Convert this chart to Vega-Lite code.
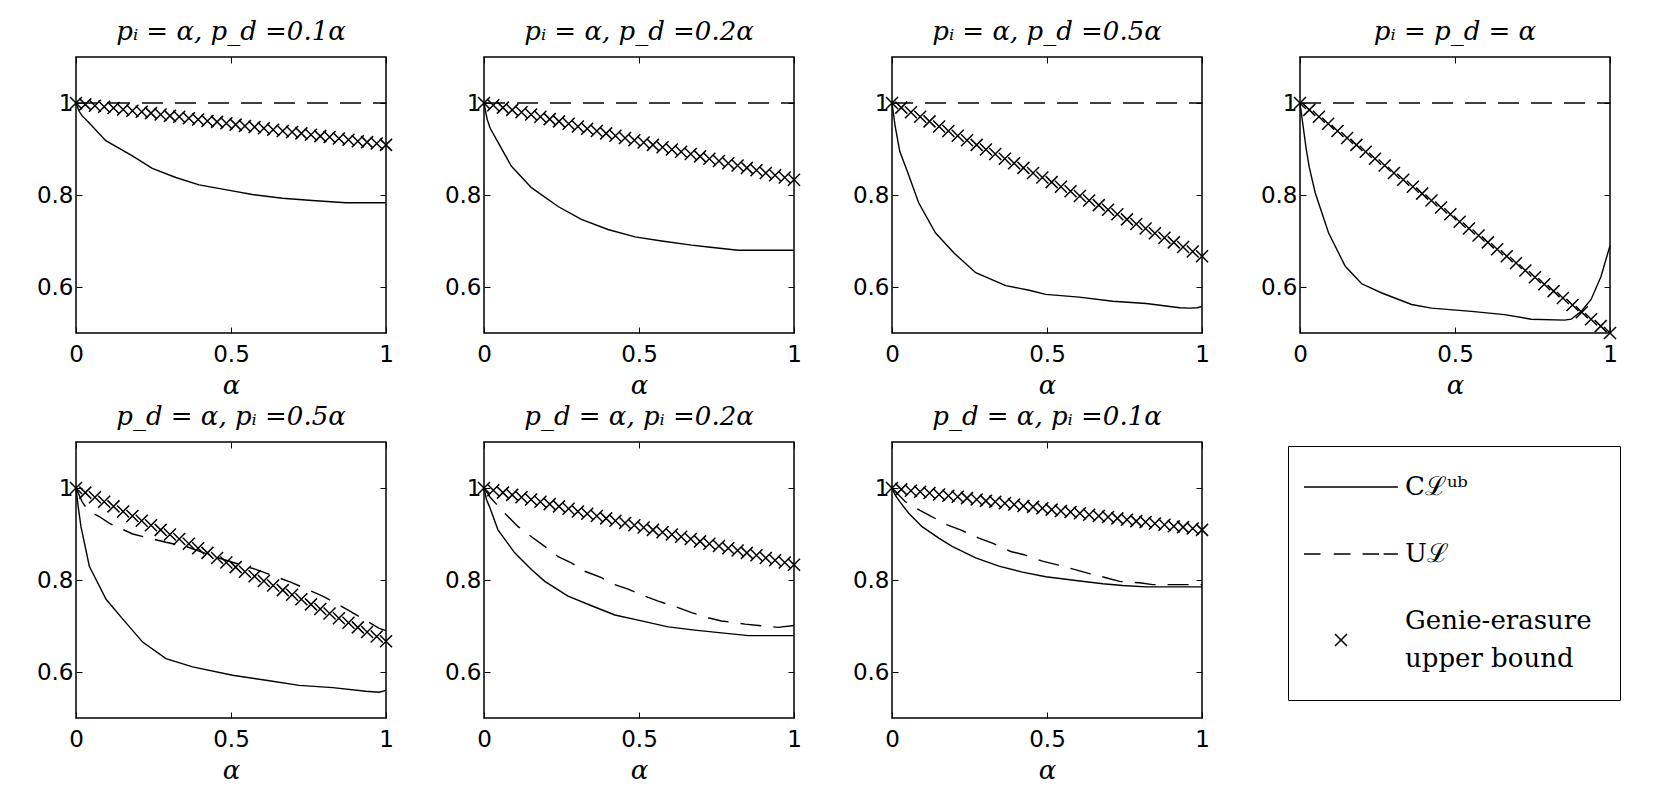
{
"$schema": "https://vega.github.io/schema/vega-lite/v6.json",
"background": "white",
"autosize": {"type": "pad"},
"padding": {"left": 35, "top": 17, "right": 5, "bottom": 5},
"columns": 4,
"spacing": {"row": 109, "column": 98},
"bounds": "flush",
"align": "all",
"datasets": {
"g1": [{"s":"G","a":0,"v":1},{"s":"G","a":0.03,"v":0.997},{"s":"G","a":0.061,"v":0.994},{"s":"G","a":0.091,"v":0.992},{"s":"G","a":0.121,"v":0.989},{"s":"G","a":0.152,"v":0.986},{"s":"G","a":0.182,"v":0.983},{"s":"G","a":0.212,"v":0.981},{"s":"G","a":0.242,"v":0.978},{"s":"G","a":0.273,"v":0.975},{"s":"G","a":0.303,"v":0.972},{"s":"G","a":0.333,"v":0.97},{"s":"G","a":0.364,"v":0.967},{"s":"G","a":0.394,"v":0.964},{"s":"G","a":0.424,"v":0.961},{"s":"G","a":0.455,"v":0.959},{"s":"G","a":0.485,"v":0.956},{"s":"G","a":0.515,"v":0.953},{"s":"G","a":0.545,"v":0.95},{"s":"G","a":0.576,"v":0.948},{"s":"G","a":0.606,"v":0.945},{"s":"G","a":0.636,"v":0.942},{"s":"G","a":0.667,"v":0.939},{"s":"G","a":0.697,"v":0.937},{"s":"G","a":0.727,"v":0.934},{"s":"G","a":0.758,"v":0.931},{"s":"G","a":0.788,"v":0.928},{"s":"G","a":0.818,"v":0.926},{"s":"G","a":0.848,"v":0.923},{"s":"G","a":0.879,"v":0.92},{"s":"G","a":0.909,"v":0.917},{"s":"G","a":0.939,"v":0.915},{"s":"G","a":0.97,"v":0.912},{"s":"G","a":1,"v":0.909}],
"g2": [{"a":0,"v":1},{"a":0.03,"v":0.995},{"a":0.061,"v":0.99},{"a":0.091,"v":0.985},{"a":0.121,"v":0.98},{"a":0.152,"v":0.975},{"a":0.182,"v":0.97},{"a":0.212,"v":0.965},{"a":0.242,"v":0.96},{"a":0.273,"v":0.955},{"a":0.303,"v":0.949},{"a":0.333,"v":0.944},{"a":0.364,"v":0.939},{"a":0.394,"v":0.934},{"a":0.424,"v":0.929},{"a":0.455,"v":0.924},{"a":0.485,"v":0.919},{"a":0.515,"v":0.914},{"a":0.545,"v":0.909},{"a":0.576,"v":0.904},{"a":0.606,"v":0.899},{"a":0.636,"v":0.894},{"a":0.667,"v":0.889},{"a":0.697,"v":0.884},{"a":0.727,"v":0.879},{"a":0.758,"v":0.874},{"a":0.788,"v":0.869},{"a":0.818,"v":0.864},{"a":0.848,"v":0.859},{"a":0.879,"v":0.854},{"a":0.909,"v":0.848},{"a":0.939,"v":0.843},{"a":0.97,"v":0.838},{"a":1,"v":0.833}],
"g3": [{"a":0,"v":1},{"a":0.03,"v":0.99},{"a":0.061,"v":0.98},{"a":0.091,"v":0.97},{"a":0.121,"v":0.96},{"a":0.152,"v":0.949},{"a":0.182,"v":0.939},{"a":0.212,"v":0.929},{"a":0.242,"v":0.919},{"a":0.273,"v":0.909},{"a":0.303,"v":0.899},{"a":0.333,"v":0.889},{"a":0.364,"v":0.879},{"a":0.394,"v":0.869},{"a":0.424,"v":0.859},{"a":0.455,"v":0.848},{"a":0.485,"v":0.838},{"a":0.515,"v":0.828},{"a":0.545,"v":0.818},{"a":0.576,"v":0.808},{"a":0.606,"v":0.798},{"a":0.636,"v":0.788},{"a":0.667,"v":0.778},{"a":0.697,"v":0.768},{"a":0.727,"v":0.758},{"a":0.758,"v":0.747},{"a":0.788,"v":0.737},{"a":0.818,"v":0.727},{"a":0.848,"v":0.717},{"a":0.879,"v":0.707},{"a":0.909,"v":0.697},{"a":0.939,"v":0.687},{"a":0.97,"v":0.677},{"a":1,"v":0.667}],
"g4": [{"a":0,"v":1},{"a":0.03,"v":0.985},{"a":0.061,"v":0.97},{"a":0.091,"v":0.955},{"a":0.121,"v":0.939},{"a":0.152,"v":0.924},{"a":0.182,"v":0.909},{"a":0.212,"v":0.894},{"a":0.242,"v":0.879},{"a":0.273,"v":0.864},{"a":0.303,"v":0.848},{"a":0.333,"v":0.833},{"a":0.364,"v":0.818},{"a":0.394,"v":0.803},{"a":0.424,"v":0.788},{"a":0.455,"v":0.773},{"a":0.485,"v":0.758},{"a":0.515,"v":0.742},{"a":0.545,"v":0.727},{"a":0.576,"v":0.712},{"a":0.606,"v":0.697},{"a":0.636,"v":0.682},{"a":0.667,"v":0.667},{"a":0.697,"v":0.652},{"a":0.727,"v":0.636},{"a":0.758,"v":0.621},{"a":0.788,"v":0.606},{"a":0.818,"v":0.591},{"a":0.848,"v":0.576},{"a":0.879,"v":0.561},{"a":0.909,"v":0.545},{"a":0.939,"v":0.53},{"a":0.97,"v":0.515},{"a":1,"v":0.5}],
"c": [
{"p":1,"s":"C","a":0,"v":1},{"p":1,"s":"C","a":0.01,"v":0.982},{"p":1,"s":"C","a":0.02,"v":0.972},{"p":1,"s":"C","a":0.042,"v":0.957},{"p":1,"s":"C","a":0.096,"v":0.918},{"p":1,"s":"C","a":0.182,"v":0.885},{"p":1,"s":"C","a":0.246,"v":0.858},{"p":1,"s":"C","a":0.322,"v":0.838},{"p":1,"s":"C","a":0.397,"v":0.822},{"p":1,"s":"C","a":0.504,"v":0.809},{"p":1,"s":"C","a":0.569,"v":0.801},{"p":1,"s":"C","a":0.666,"v":0.793},{"p":1,"s":"C","a":0.762,"v":0.788},{"p":1,"s":"C","a":0.87,"v":0.783},{"p":1,"s":"C","a":1,"v":0.783},
{"p":1,"s":"U","a":0,"v":1},{"p":1,"s":"U","a":1,"v":1},
{"p":2,"s":"C","a":0,"v":1},{"p":2,"s":"C","a":0.01,"v":0.965},{"p":2,"s":"C","a":0.02,"v":0.945},{"p":2,"s":"C","a":0.04,"v":0.921},{"p":2,"s":"C","a":0.088,"v":0.863},{"p":2,"s":"C","a":0.153,"v":0.816},{"p":2,"s":"C","a":0.239,"v":0.775},{"p":2,"s":"C","a":0.314,"v":0.747},{"p":2,"s":"C","a":0.4,"v":0.725},{"p":2,"s":"C","a":0.487,"v":0.709},{"p":2,"s":"C","a":0.573,"v":0.7},{"p":2,"s":"C","a":0.67,"v":0.691},{"p":2,"s":"C","a":0.723,"v":0.687},{"p":2,"s":"C","a":0.82,"v":0.68},{"p":2,"s":"C","a":1,"v":0.68},
{"p":2,"s":"U","a":0,"v":1},{"p":2,"s":"U","a":1,"v":1},
{"p":3,"s":"C","a":0,"v":1},{"p":3,"s":"C","a":0.01,"v":0.95},{"p":3,"s":"C","a":0.025,"v":0.895},{"p":3,"s":"C","a":0.049,"v":0.852},{"p":3,"s":"C","a":0.086,"v":0.783},{"p":3,"s":"C","a":0.14,"v":0.718},{"p":3,"s":"C","a":0.2,"v":0.674},{"p":3,"s":"C","a":0.27,"v":0.631},{"p":3,"s":"C","a":0.367,"v":0.603},{"p":3,"s":"C","a":0.442,"v":0.593},{"p":3,"s":"C","a":0.496,"v":0.584},{"p":3,"s":"C","a":0.604,"v":0.578},{"p":3,"s":"C","a":0.712,"v":0.569},{"p":3,"s":"C","a":0.82,"v":0.564},{"p":3,"s":"C","a":0.928,"v":0.555},{"p":3,"s":"C","a":0.96,"v":0.554},{"p":3,"s":"C","a":0.985,"v":0.555},{"p":3,"s":"C","a":1,"v":0.558},
{"p":3,"s":"U","a":0,"v":1},{"p":3,"s":"U","a":1,"v":1},
{"p":4,"s":"C","a":0,"v":1},{"p":4,"s":"C","a":0.01,"v":0.95},{"p":4,"s":"C","a":0.02,"v":0.9},{"p":4,"s":"C","a":0.03,"v":0.86},{"p":4,"s":"C","a":0.049,"v":0.805},{"p":4,"s":"C","a":0.092,"v":0.718},{"p":4,"s":"C","a":0.146,"v":0.645},{"p":4,"s":"C","a":0.199,"v":0.607},{"p":4,"s":"C","a":0.264,"v":0.587},{"p":4,"s":"C","a":0.36,"v":0.562},{"p":4,"s":"C","a":0.424,"v":0.554},{"p":4,"s":"C","a":0.553,"v":0.547},{"p":4,"s":"C","a":0.66,"v":0.54},{"p":4,"s":"C","a":0.746,"v":0.53},{"p":4,"s":"C","a":0.853,"v":0.528},{"p":4,"s":"C","a":0.875,"v":0.53},{"p":4,"s":"C","a":0.907,"v":0.547},{"p":4,"s":"C","a":0.939,"v":0.573},{"p":4,"s":"C","a":0.971,"v":0.623},{"p":4,"s":"C","a":1,"v":0.69},
{"p":4,"s":"U","a":0,"v":1},{"p":4,"s":"U","a":1,"v":1},
{"p":5,"s":"C","a":0,"v":1},{"p":5,"s":"C","a":0.008,"v":0.955},{"p":5,"s":"C","a":0.016,"v":0.916},{"p":5,"s":"C","a":0.043,"v":0.83},{"p":5,"s":"C","a":0.097,"v":0.758},{"p":5,"s":"C","a":0.151,"v":0.715},{"p":5,"s":"C","a":0.215,"v":0.665},{"p":5,"s":"C","a":0.29,"v":0.629},{"p":5,"s":"C","a":0.376,"v":0.611},{"p":5,"s":"C","a":0.505,"v":0.593},{"p":5,"s":"C","a":0.613,"v":0.582},{"p":5,"s":"C","a":0.72,"v":0.571},{"p":5,"s":"C","a":0.828,"v":0.566},{"p":5,"s":"C","a":0.935,"v":0.558},{"p":5,"s":"C","a":0.978,"v":0.556},{"p":5,"s":"C","a":1,"v":0.56},
{"p":5,"s":"U","a":0,"v":1},{"p":5,"s":"U","a":0.02,"v":0.97},{"p":5,"s":"U","a":0.04,"v":0.95},{"p":5,"s":"U","a":0.075,"v":0.938},{"p":5,"s":"U","a":0.108,"v":0.923},{"p":5,"s":"U","a":0.183,"v":0.9},{"p":5,"s":"U","a":0.29,"v":0.882},{"p":5,"s":"U","a":0.355,"v":0.873},{"p":5,"s":"U","a":0.45,"v":0.85},{"p":5,"s":"U","a":0.58,"v":0.823},{"p":5,"s":"U","a":0.694,"v":0.795},{"p":5,"s":"U","a":0.796,"v":0.765},{"p":5,"s":"U","a":0.882,"v":0.733},{"p":5,"s":"U","a":0.978,"v":0.695},{"p":5,"s":"U","a":1,"v":0.69},
{"p":6,"s":"C","a":0,"v":1},{"p":6,"s":"C","a":0.008,"v":0.975},{"p":6,"s":"C","a":0.018,"v":0.959},{"p":6,"s":"C","a":0.045,"v":0.909},{"p":6,"s":"C","a":0.099,"v":0.859},{"p":6,"s":"C","a":0.153,"v":0.823},{"p":6,"s":"C","a":0.196,"v":0.797},{"p":6,"s":"C","a":0.271,"v":0.765},{"p":6,"s":"C","a":0.347,"v":0.744},{"p":6,"s":"C","a":0.422,"v":0.724},{"p":6,"s":"C","a":0.508,"v":0.711},{"p":6,"s":"C","a":0.594,"v":0.698},{"p":6,"s":"C","a":0.68,"v":0.691},{"p":6,"s":"C","a":0.766,"v":0.685},{"p":6,"s":"C","a":0.853,"v":0.679},{"p":6,"s":"C","a":1,"v":0.679},
{"p":6,"s":"U","a":0,"v":1},{"p":6,"s":"U","a":0.02,"v":0.98},{"p":6,"s":"U","a":0.04,"v":0.965},{"p":6,"s":"U","a":0.067,"v":0.945},{"p":6,"s":"U","a":0.11,"v":0.916},{"p":6,"s":"U","a":0.153,"v":0.894},{"p":6,"s":"U","a":0.196,"v":0.873},{"p":6,"s":"U","a":0.239,"v":0.851},{"p":6,"s":"U","a":0.282,"v":0.837},{"p":6,"s":"U","a":0.325,"v":0.819},{"p":6,"s":"U","a":0.379,"v":0.805},{"p":6,"s":"U","a":0.422,"v":0.79},{"p":6,"s":"U","a":0.465,"v":0.78},{"p":6,"s":"U","a":0.519,"v":0.765},{"p":6,"s":"U","a":0.562,"v":0.754},{"p":6,"s":"U","a":0.626,"v":0.74},{"p":6,"s":"U","a":0.67,"v":0.729},{"p":6,"s":"U","a":0.723,"v":0.718},{"p":6,"s":"U","a":0.766,"v":0.711},{"p":6,"s":"U","a":0.842,"v":0.704},{"p":6,"s":"U","a":0.885,"v":0.701},{"p":6,"s":"U","a":0.949,"v":0.697},{"p":6,"s":"U","a":1,"v":0.701},
{"p":7,"s":"C","a":0,"v":1},{"p":7,"s":"C","a":0.01,"v":0.985},{"p":7,"s":"C","a":0.022,"v":0.973},{"p":7,"s":"C","a":0.054,"v":0.945},{"p":7,"s":"C","a":0.097,"v":0.916},{"p":7,"s":"C","a":0.151,"v":0.891},{"p":7,"s":"C","a":0.194,"v":0.873},{"p":7,"s":"C","a":0.27,"v":0.848},{"p":7,"s":"C","a":0.345,"v":0.83},{"p":7,"s":"C","a":0.421,"v":0.817},{"p":7,"s":"C","a":0.496,"v":0.807},{"p":7,"s":"C","a":0.593,"v":0.799},{"p":7,"s":"C","a":0.68,"v":0.792},{"p":7,"s":"C","a":0.744,"v":0.788},{"p":7,"s":"C","a":0.82,"v":0.785},{"p":7,"s":"C","a":1,"v":0.785},
{"p":7,"s":"U","a":0,"v":1},{"p":7,"s":"U","a":0.043,"v":0.97},{"p":7,"s":"U","a":0.081,"v":0.955},{"p":7,"s":"U","a":0.119,"v":0.941},{"p":7,"s":"U","a":0.178,"v":0.92},{"p":7,"s":"U","a":0.221,"v":0.909},{"p":7,"s":"U","a":0.28,"v":0.891},{"p":7,"s":"U","a":0.324,"v":0.88},{"p":7,"s":"U","a":0.383,"v":0.862},{"p":7,"s":"U","a":0.426,"v":0.855},{"p":7,"s":"U","a":0.485,"v":0.841},{"p":7,"s":"U","a":0.534,"v":0.833},{"p":7,"s":"U","a":0.588,"v":0.823},{"p":7,"s":"U","a":0.631,"v":0.815},{"p":7,"s":"U","a":0.69,"v":0.805},{"p":7,"s":"U","a":0.734,"v":0.797},{"p":7,"s":"U","a":0.798,"v":0.794},{"p":7,"s":"U","a":0.841,"v":0.79},{"p":7,"s":"U","a":0.906,"v":0.79},{"p":7,"s":"U","a":1,"v":0.79}
]
},
"concat": [
{"width": 310, "height": 276, "title": "pᵢ = α, p_d =0.1α",
 "layer": [
  {"data": {"name": "c"}, "transform": [{"filter": "datum.p == 1 && datum.s == 'C'"}],
   "mark": {"type": "line", "color": "black", "strokeWidth": 1.4},
   "encoding": {
    "x": {"field": "a", "type": "quantitative", "scale": {"domain": [0, 1], "nice": false, "zero": false}, "axis": {"orient": "bottom", "values": [0, 0.5, 1], "format": "~g", "title": "α", "labelPadding": 16, "titlePadding": 6}},
    "y": {"field": "v", "type": "quantitative", "scale": {"domain": [0.5, 1.1], "nice": false, "zero": false}, "axis": {"orient": "left", "values": [0.6, 0.8, 1], "format": "~g", "title": null, "labelPadding": 9}}
   }},
  {"data": {"name": "c"}, "transform": [{"filter": "datum.p == 1 && datum.s == 'U'"}],
   "mark": {"type": "line", "color": "black", "strokeWidth": 1.4, "strokeDash": [21, 12]},
   "encoding": {"x": {"field": "a", "type": "quantitative", "axis": null}, "y": {"field": "v", "type": "quantitative", "axis": null}}},
  {"data": {"name": "g1"},
   "mark": {"type": "point", "shape": "M-1,-1L1,1M-1,1L1,-1", "size": 144, "filled": false, "stroke": "black", "strokeWidth": 1.5, "opacity": 1},
   "encoding": {
    "x": {"field": "a", "type": "quantitative", "axis": {"orient": "top", "values": [0, 0.5, 1], "labels": false, "title": null}},
    "y": {"field": "v", "type": "quantitative", "axis": {"orient": "right", "values": [0.6, 0.8, 1], "labels": false, "title": null}}
   }},
  {"data": {"name": "g1"},
   "mark": {"type": "point", "size": 144, "filled": false, "stroke": "black", "strokeWidth": 1.5, "opacity": 0},
   "encoding": {
    "x": {"field": "a", "type": "quantitative", "axis": null},
    "y": {"field": "v", "type": "quantitative", "axis": null},
    "shape": {"field": "s", "type": "nominal",
     "scale": {"domain": ["C", "U", "G"], "range": ["M-6.17,0L9.48,0", "M-6.17,0L-3.41,0M-1.2,0L1.57,0M3.59,0L6.35,0M7.09,0L9.48,0", "M-1,2.17L1,4.17M-1,4.17L1,2.17"]},
     "legend": {"orient": "none", "legendX": 1212, "legendY": 389, "title": null, "padding": 28, "strokeColor": "black",
      "symbolSize": 144, "symbolStrokeWidth": 1.5, "symbolStrokeColor": "black", "symbolFillColor": "transparent", "symbolOpacity": 1, "symbolOffset": 12,
      "labelFont": "DejaVu Serif", "labelFontSize": 26, "labelColor": "black", "labelOffset": 51, "rowPadding": 41, "labelLimit": 400,
      "labelExpr": "datum.value == 'C' ? 'Cℒᵘᵇ' : datum.value == 'U' ? 'Uℒ' : ['Genie-erasure', 'upper bound']"}}
   }}
 ],
 "resolve": {"axis": {"x": "independent", "y": "independent"}}
},
{"width": 310, "height": 276, "title": "pᵢ = α, p_d =0.2α",
 "layer": [
  {"data": {"name": "c"}, "transform": [{"filter": "datum.p == 2 && datum.s == 'C'"}],
   "mark": {"type": "line", "color": "black", "strokeWidth": 1.4},
   "encoding": {
    "x": {"field": "a", "type": "quantitative", "scale": {"domain": [0, 1], "nice": false, "zero": false}, "axis": {"orient": "bottom", "values": [0, 0.5, 1], "format": "~g", "title": "α", "labelPadding": 16, "titlePadding": 6}},
    "y": {"field": "v", "type": "quantitative", "scale": {"domain": [0.5, 1.1], "nice": false, "zero": false}, "axis": {"orient": "left", "values": [0.6, 0.8, 1], "format": "~g", "title": null, "labelPadding": 9}}
   }},
  {"data": {"name": "c"}, "transform": [{"filter": "datum.p == 2 && datum.s == 'U'"}],
   "mark": {"type": "line", "color": "black", "strokeWidth": 1.4, "strokeDash": [21, 12]},
   "encoding": {"x": {"field": "a", "type": "quantitative", "axis": null}, "y": {"field": "v", "type": "quantitative", "axis": null}}},
  {"data": {"name": "g2"},
   "mark": {"type": "point", "shape": "M-1,-1L1,1M-1,1L1,-1", "size": 144, "filled": false, "stroke": "black", "strokeWidth": 1.5, "opacity": 1},
   "encoding": {
    "x": {"field": "a", "type": "quantitative", "axis": {"orient": "top", "values": [0, 0.5, 1], "labels": false, "title": null}},
    "y": {"field": "v", "type": "quantitative", "axis": {"orient": "right", "values": [0.6, 0.8, 1], "labels": false, "title": null}}
   }}
 ],
 "resolve": {"axis": {"x": "independent", "y": "independent"}}
},
{"width": 310, "height": 276, "title": "pᵢ = α, p_d =0.5α",
 "layer": [
  {"data": {"name": "c"}, "transform": [{"filter": "datum.p == 3 && datum.s == 'C'"}],
   "mark": {"type": "line", "color": "black", "strokeWidth": 1.4},
   "encoding": {
    "x": {"field": "a", "type": "quantitative", "scale": {"domain": [0, 1], "nice": false, "zero": false}, "axis": {"orient": "bottom", "values": [0, 0.5, 1], "format": "~g", "title": "α", "labelPadding": 16, "titlePadding": 6}},
    "y": {"field": "v", "type": "quantitative", "scale": {"domain": [0.5, 1.1], "nice": false, "zero": false}, "axis": {"orient": "left", "values": [0.6, 0.8, 1], "format": "~g", "title": null, "labelPadding": 9}}
   }},
  {"data": {"name": "c"}, "transform": [{"filter": "datum.p == 3 && datum.s == 'U'"}],
   "mark": {"type": "line", "color": "black", "strokeWidth": 1.4, "strokeDash": [21, 12]},
   "encoding": {"x": {"field": "a", "type": "quantitative", "axis": null}, "y": {"field": "v", "type": "quantitative", "axis": null}}},
  {"data": {"name": "g3"},
   "mark": {"type": "point", "shape": "M-1,-1L1,1M-1,1L1,-1", "size": 144, "filled": false, "stroke": "black", "strokeWidth": 1.5, "opacity": 1},
   "encoding": {
    "x": {"field": "a", "type": "quantitative", "axis": {"orient": "top", "values": [0, 0.5, 1], "labels": false, "title": null}},
    "y": {"field": "v", "type": "quantitative", "axis": {"orient": "right", "values": [0.6, 0.8, 1], "labels": false, "title": null}}
   }}
 ],
 "resolve": {"axis": {"x": "independent", "y": "independent"}}
},
{"width": 310, "height": 276, "title": "pᵢ = p_d = α",
 "layer": [
  {"data": {"name": "c"}, "transform": [{"filter": "datum.p == 4 && datum.s == 'C'"}],
   "mark": {"type": "line", "color": "black", "strokeWidth": 1.4},
   "encoding": {
    "x": {"field": "a", "type": "quantitative", "scale": {"domain": [0, 1], "nice": false, "zero": false}, "axis": {"orient": "bottom", "values": [0, 0.5, 1], "format": "~g", "title": "α", "labelPadding": 16, "titlePadding": 6}},
    "y": {"field": "v", "type": "quantitative", "scale": {"domain": [0.5, 1.1], "nice": false, "zero": false}, "axis": {"orient": "left", "values": [0.6, 0.8, 1], "format": "~g", "title": null, "labelPadding": 9}}
   }},
  {"data": {"name": "c"}, "transform": [{"filter": "datum.p == 4 && datum.s == 'U'"}],
   "mark": {"type": "line", "color": "black", "strokeWidth": 1.4, "strokeDash": [21, 12]},
   "encoding": {"x": {"field": "a", "type": "quantitative", "axis": null}, "y": {"field": "v", "type": "quantitative", "axis": null}}},
  {"data": {"name": "g4"},
   "mark": {"type": "point", "shape": "M-1,-1L1,1M-1,1L1,-1", "size": 144, "filled": false, "stroke": "black", "strokeWidth": 1.5, "opacity": 1},
   "encoding": {
    "x": {"field": "a", "type": "quantitative", "axis": {"orient": "top", "values": [0, 0.5, 1], "labels": false, "title": null}},
    "y": {"field": "v", "type": "quantitative", "axis": {"orient": "right", "values": [0.6, 0.8, 1], "labels": false, "title": null}}
   }}
 ],
 "resolve": {"axis": {"x": "independent", "y": "independent"}}
},
{"width": 310, "height": 276, "title": "p_d = α, pᵢ =0.5α",
 "layer": [
  {"data": {"name": "c"}, "transform": [{"filter": "datum.p == 5 && datum.s == 'C'"}],
   "mark": {"type": "line", "color": "black", "strokeWidth": 1.4},
   "encoding": {
    "x": {"field": "a", "type": "quantitative", "scale": {"domain": [0, 1], "nice": false, "zero": false}, "axis": {"orient": "bottom", "values": [0, 0.5, 1], "format": "~g", "title": "α", "labelPadding": 16, "titlePadding": 6}},
    "y": {"field": "v", "type": "quantitative", "scale": {"domain": [0.5, 1.1], "nice": false, "zero": false}, "axis": {"orient": "left", "values": [0.6, 0.8, 1], "format": "~g", "title": null, "labelPadding": 9}}
   }},
  {"data": {"name": "c"}, "transform": [{"filter": "datum.p == 5 && datum.s == 'U'"}],
   "mark": {"type": "line", "color": "black", "strokeWidth": 1.4, "strokeDash": [21, 12]},
   "encoding": {"x": {"field": "a", "type": "quantitative", "axis": null}, "y": {"field": "v", "type": "quantitative", "axis": null}}},
  {"data": {"name": "g3"},
   "mark": {"type": "point", "shape": "M-1,-1L1,1M-1,1L1,-1", "size": 144, "filled": false, "stroke": "black", "strokeWidth": 1.5, "opacity": 1},
   "encoding": {
    "x": {"field": "a", "type": "quantitative", "axis": {"orient": "top", "values": [0, 0.5, 1], "labels": false, "title": null}},
    "y": {"field": "v", "type": "quantitative", "axis": {"orient": "right", "values": [0.6, 0.8, 1], "labels": false, "title": null}}
   }}
 ],
 "resolve": {"axis": {"x": "independent", "y": "independent"}}
},
{"width": 310, "height": 276, "title": "p_d = α, pᵢ =0.2α",
 "layer": [
  {"data": {"name": "c"}, "transform": [{"filter": "datum.p == 6 && datum.s == 'C'"}],
   "mark": {"type": "line", "color": "black", "strokeWidth": 1.4},
   "encoding": {
    "x": {"field": "a", "type": "quantitative", "scale": {"domain": [0, 1], "nice": false, "zero": false}, "axis": {"orient": "bottom", "values": [0, 0.5, 1], "format": "~g", "title": "α", "labelPadding": 16, "titlePadding": 6}},
    "y": {"field": "v", "type": "quantitative", "scale": {"domain": [0.5, 1.1], "nice": false, "zero": false}, "axis": {"orient": "left", "values": [0.6, 0.8, 1], "format": "~g", "title": null, "labelPadding": 9}}
   }},
  {"data": {"name": "c"}, "transform": [{"filter": "datum.p == 6 && datum.s == 'U'"}],
   "mark": {"type": "line", "color": "black", "strokeWidth": 1.4, "strokeDash": [21, 12]},
   "encoding": {"x": {"field": "a", "type": "quantitative", "axis": null}, "y": {"field": "v", "type": "quantitative", "axis": null}}},
  {"data": {"name": "g2"},
   "mark": {"type": "point", "shape": "M-1,-1L1,1M-1,1L1,-1", "size": 144, "filled": false, "stroke": "black", "strokeWidth": 1.5, "opacity": 1},
   "encoding": {
    "x": {"field": "a", "type": "quantitative", "axis": {"orient": "top", "values": [0, 0.5, 1], "labels": false, "title": null}},
    "y": {"field": "v", "type": "quantitative", "axis": {"orient": "right", "values": [0.6, 0.8, 1], "labels": false, "title": null}}
   }}
 ],
 "resolve": {"axis": {"x": "independent", "y": "independent"}}
},
{"width": 310, "height": 276, "title": "p_d = α, pᵢ =0.1α",
 "layer": [
  {"data": {"name": "c"}, "transform": [{"filter": "datum.p == 7 && datum.s == 'C'"}],
   "mark": {"type": "line", "color": "black", "strokeWidth": 1.4},
   "encoding": {
    "x": {"field": "a", "type": "quantitative", "scale": {"domain": [0, 1], "nice": false, "zero": false}, "axis": {"orient": "bottom", "values": [0, 0.5, 1], "format": "~g", "title": "α", "labelPadding": 16, "titlePadding": 6}},
    "y": {"field": "v", "type": "quantitative", "scale": {"domain": [0.5, 1.1], "nice": false, "zero": false}, "axis": {"orient": "left", "values": [0.6, 0.8, 1], "format": "~g", "title": null, "labelPadding": 9}}
   }},
  {"data": {"name": "c"}, "transform": [{"filter": "datum.p == 7 && datum.s == 'U'"}],
   "mark": {"type": "line", "color": "black", "strokeWidth": 1.4, "strokeDash": [21, 12]},
   "encoding": {"x": {"field": "a", "type": "quantitative", "axis": null}, "y": {"field": "v", "type": "quantitative", "axis": null}}},
  {"data": {"name": "g1"},
   "mark": {"type": "point", "shape": "M-1,-1L1,1M-1,1L1,-1", "size": 144, "filled": false, "stroke": "black", "strokeWidth": 1.5, "opacity": 1},
   "encoding": {
    "x": {"field": "a", "type": "quantitative", "axis": {"orient": "top", "values": [0, 0.5, 1], "labels": false, "title": null}},
    "y": {"field": "v", "type": "quantitative", "axis": {"orient": "right", "values": [0.6, 0.8, 1], "labels": false, "title": null}}
   }}
 ],
 "resolve": {"axis": {"x": "independent", "y": "independent"}}
}
],
"config": {
 "view": {"stroke": "black", "strokeWidth": 1.5},
 "style": {"guide-label": {"lineHeight": 38}},
 "title": {"font": "DejaVu Serif", "fontStyle": "italic", "fontWeight": "normal", "fontSize": 26, "color": "black", "anchor": "middle", "baseline": "alphabetic", "offset": 12},
 "axis": {"labelFont": "DejaVu Sans", "labelFontSize": 23, "labelColor": "black", "tickColor": "black", "tickSize": -6, "tickWidth": 1, "domain": false, "grid": false, "titleFont": "DejaVu Serif", "titleFontStyle": "italic", "titleFontWeight": "normal", "titleFontSize": 26, "titleColor": "black", "labelFlush": false}
}
}
